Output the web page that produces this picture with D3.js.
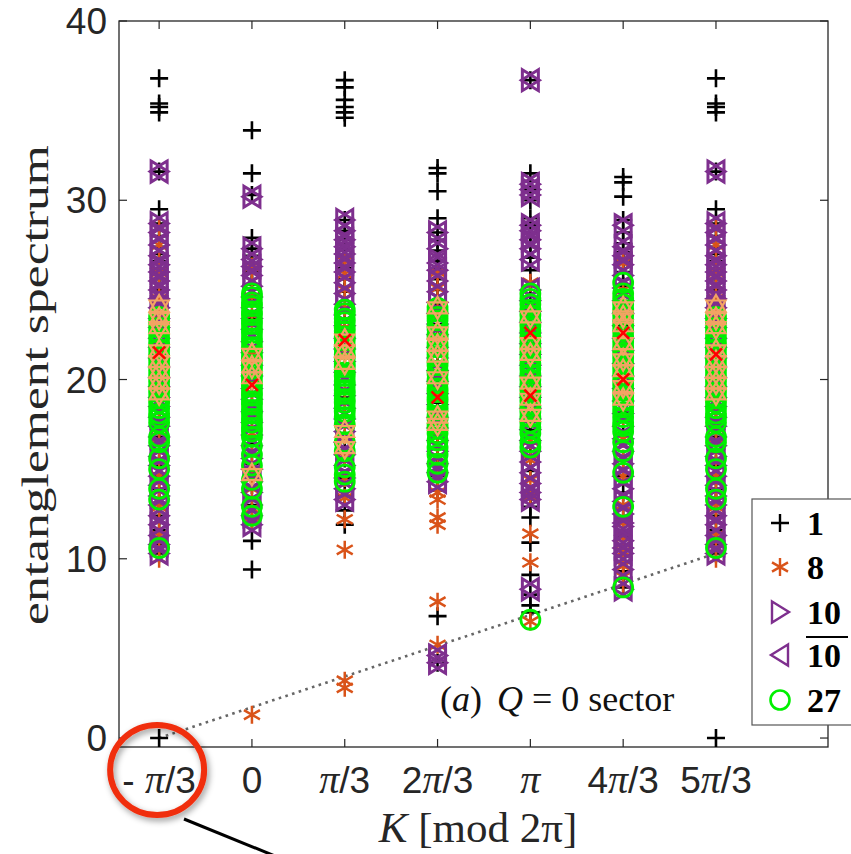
<!DOCTYPE html>
<html>
<head>
<meta charset="utf-8">
<script src="https://cdn.jsdelivr.net/npm/d3@7"></script>
<style>
  body { margin: 0; background: #fff; }
</style>
</head>
<body>
<div class="chart"></div>
<script>
// momentum sectors (units of pi/3) and their tick labels
const kSteps = [-1, 0, 1, 2, 3, 4, 5];
const kLabels = [["-", " ", "π", "/3"], ["0"], ["π", "/3"], ["2", "π", "/3"], ["π"], ["4", "π", "/3"], ["5", "π", "/3"]];
const yTicks = [0, 10, 20, 30, 40];

// entanglement levels per K column, one list per representation
const rep1 = [
  [0, 10.3, 10.8, 11.6, 12.4, 13.1, 13.9, 14.6, 15.2, 16.0, 16.8, 17.5, 18.3, 19.0, 19.8, 20.6, 21.3, 22.1, 22.9, 23.6, 24.3, 25.0, 25.6, 26.1, 26.6, 27.0, 27.4, 28.0, 28.7, 29.5, 31.6, 34.9, 35.2, 35.4, 36.8],
  [9.4, 11.0, 12.0, 13.0, 14.1, 15.3, 16.4, 17.6, 18.7, 19.9, 21.0, 22.3, 23.4, 24.5, 25.3, 26.0, 26.5, 26.9, 27.3, 27.9, 30.3, 31.5, 33.9],
  [11.9, 12.7, 13.5, 14.5, 15.6, 16.7, 17.9, 19.0, 20.2, 21.4, 22.6, 23.8, 24.9, 25.6, 26.2, 26.8, 27.3, 27.8, 28.3, 28.9, 34.6, 34.9, 35.2, 35.6, 36.3, 36.7],
  [4.2, 6.8, 13.8, 14.6, 15.5, 16.5, 17.6, 18.7, 19.8, 20.9, 22.0, 23.1, 24.2, 25.0, 25.6, 26.2, 26.6, 27.2, 27.8, 28.2, 29.0, 30.5, 31.5, 31.8],
  [7.0, 7.4, 8.0, 9.1, 10.9, 12.3, 12.9, 13.6, 14.9, 16.0, 17.2, 18.4, 19.6, 20.8, 22.0, 23.2, 24.4, 25.2, 26.1, 26.8, 27.4, 27.9, 28.6, 29.0, 30.0, 30.6, 31.5, 36.7],
  [8.4, 8.9, 9.3, 10.2, 11.2, 12.2, 13.7, 14.6, 15.5, 17.0, 18.2, 19.4, 20.6, 21.8, 23.0, 24.2, 25.2, 26.0, 26.6, 27.1, 27.6, 28.2, 28.9, 30.2, 31.0, 31.3],
  [0, 10.3, 10.8, 11.6, 12.4, 13.1, 13.9, 14.6, 15.2, 16.0, 16.8, 17.5, 18.3, 19.0, 19.8, 20.6, 21.3, 22.1, 22.9, 23.6, 24.3, 25.0, 25.6, 26.1, 26.6, 27.0, 27.4, 28.0, 28.7, 29.5, 31.6, 34.9, 35.2, 35.4, 36.8]
];
const rep8 = [
  [10.0, 10.6, 11.3, 12.1, 12.9, 13.3, 13.8, 14.6, 15.5, 16.4, 17.3, 18.2, 19.1, 20.0, 20.9, 21.8, 22.7, 23.6, 24.5, 25.3, 26.0, 26.7, 27.5, 28.4],
  [1.3, 12.0, 12.8, 13.9, 14.8, 15.9, 17.0, 18.1, 19.2, 20.3, 21.4, 22.5, 23.6, 24.6, 25.5, 26.3],
  [2.8, 3.2, 10.5, 12.2, 13.4, 14.5, 15.7, 16.9, 18.1, 19.3, 20.5, 21.7, 22.9, 24.0, 25.0, 25.9, 26.6],
  [5.2, 7.6, 11.9, 12.3, 13.3, 13.7, 14.6, 15.7, 16.8, 18.0, 19.2, 20.4, 21.6, 22.8, 24.0, 25.1, 26.0],
  [6.5, 9.8, 11.4, 13.5, 14.4, 15.5, 16.6, 17.8, 19.0, 20.2, 21.4, 22.6, 23.8, 25.4],
  [8.6, 9.0, 9.6, 10.4, 11.2, 12.0, 13.0, 14.6, 15.6, 16.7, 17.8, 19.0, 20.2, 21.4, 22.6, 23.8, 25.0, 26.5],
  [10.0, 10.6, 11.3, 12.1, 12.9, 13.3, 13.8, 14.6, 15.5, 16.4, 17.3, 18.2, 19.1, 20.0, 20.9, 21.8, 22.7, 23.6, 24.5, 25.3, 26.0, 26.7, 27.5, 28.4]
];
// 10 and its conjugate share the same levels
const rep10 = [
  [10.3, 10.8, 11.3, 11.9, 12.4, 13.0, 13.5, 14.1, 14.6, 15.2, 15.7, 16.3, 16.8, 17.4, 17.9, 18.5, 19.0, 19.6, 20.1, 20.7, 21.2, 21.8, 22.3, 22.9, 23.4, 24.0, 24.5, 25.0, 25.5, 26.0, 26.4, 26.9, 27.5, 28.2, 28.7, 31.6],
  [11.9, 12.4, 13.0, 13.7, 14.3, 15.0, 15.6, 16.3, 16.9, 17.6, 18.2, 18.9, 19.5, 20.2, 20.8, 21.5, 22.1, 22.8, 23.4, 24.0, 24.6, 25.2, 25.8, 26.3, 26.7, 27.3, 30.2],
  [13.3, 13.9, 14.5, 15.2, 15.8, 16.5, 17.1, 17.8, 18.4, 19.1, 19.7, 20.4, 21.0, 21.7, 22.3, 23.0, 23.6, 24.2, 24.8, 25.4, 26.0, 26.5, 27.0, 27.4, 27.8, 28.3, 28.9],
  [4.2, 4.6, 14.3, 14.8, 15.3, 16.0, 16.6, 17.3, 17.9, 18.6, 19.2, 19.9, 20.5, 21.2, 21.8, 22.5, 23.1, 23.7, 24.3, 24.9, 25.5, 26.1, 26.5, 27.3, 28.2],
  [8.3, 13.3, 13.7, 14.2, 14.8, 15.4, 16.0, 16.6, 17.2, 17.8, 18.4, 19.0, 19.6, 20.2, 20.8, 21.4, 22.0, 22.6, 23.2, 23.8, 24.4, 25.0, 26.7, 27.3, 27.8, 28.3, 28.6, 30.3, 30.6, 30.9, 36.7],
  [8.3, 9.4, 10.3, 10.6, 11.0, 11.8, 12.0, 12.5, 13.2, 13.9, 14.6, 15.3, 16.0, 16.7, 17.4, 18.1, 18.8, 19.5, 20.2, 20.9, 21.6, 22.3, 23.0, 23.7, 24.4, 25.1, 25.8, 26.4, 26.9, 27.4, 28.6],
  [10.3, 10.8, 11.3, 11.9, 12.4, 13.0, 13.5, 14.1, 14.6, 15.2, 15.7, 16.3, 16.8, 17.4, 17.9, 18.5, 19.0, 19.6, 20.1, 20.7, 21.2, 21.8, 22.3, 22.9, 23.4, 24.0, 24.5, 25.0, 25.5, 26.0, 26.4, 26.9, 27.5, 28.2, 28.7, 31.6]
];
const rep27 = [
  [10.6, 13.3, 13.9, 15.0, 15.6, 16.5, 16.8, 17.6, 17.9, 18.1, 18.4, 18.7, 19.0, 19.3, 19.6, 19.9, 20.2, 20.5, 20.8, 21.1, 21.4, 21.7, 22.0, 22.3, 22.6, 22.9, 23.2, 23.5],
  [12.4, 12.9, 13.9, 14.4, 15.2, 15.8, 16.3, 16.8, 17.1, 17.3, 17.6, 17.8, 18.1, 18.3, 18.6, 18.8, 19.1, 19.3, 19.6, 19.8, 20.1, 20.3, 20.6, 20.8, 21.1, 21.3, 21.6, 21.8, 22.1, 22.3, 22.6, 22.8, 23.1, 23.3, 23.6, 23.8, 24.1, 24.3, 24.6, 24.8],
  [14.3, 14.7, 15.1, 16.0, 16.5, 17.5, 17.9, 18.2, 18.4, 18.7, 18.9, 19.2, 19.4, 19.7, 19.9, 20.2, 20.4, 20.7, 20.9, 21.2, 21.4, 21.7, 21.9, 22.2, 22.4, 22.7, 22.9, 23.2, 23.4, 23.7, 23.9],
  [14.8, 15.3, 15.8, 16.2, 16.6, 17.0, 17.3, 17.5, 17.8, 18.0, 18.3, 18.5, 18.8, 19.0, 19.3, 19.5, 19.8, 20.0, 20.3, 20.5, 20.8, 21.0, 21.3, 21.5, 21.8, 22.0, 22.3, 22.5, 22.8, 23.0, 23.3, 23.5, 23.8, 24.0],
  [6.6, 16.2, 16.5, 17.0, 17.3, 17.6, 17.9, 18.2, 18.5, 18.8, 19.1, 19.4, 19.7, 20.0, 20.3, 20.6, 20.9, 21.2, 21.5, 21.8, 22.1, 22.4, 22.7, 23.0, 23.3, 23.6, 23.9, 24.2, 24.5, 24.8],
  [8.4, 12.9, 14.8, 16.0, 16.5, 17.1, 17.4, 17.6, 17.9, 18.2, 18.5, 18.8, 19.1, 19.4, 19.7, 20.0, 20.3, 20.6, 20.9, 21.2, 21.5, 21.8, 22.1, 22.4, 22.7, 23.0, 23.3, 23.6, 23.9, 24.2, 24.5, 24.8, 25.4],
  [10.6, 13.3, 13.9, 15.0, 15.6, 16.5, 16.8, 17.6, 17.9, 18.1, 18.4, 18.7, 19.0, 19.3, 19.6, 19.9, 20.2, 20.5, 20.8, 21.1, 21.4, 21.7, 22.0, 22.3, 22.6, 22.9, 23.2, 23.5]
];
// reps plotted without a legend entry
const repHex = [
  [19.2, 19.8, 20.4, 21.0, 21.6, 22.9, 23.4, 24.1],
  [14.7, 20.1, 20.7, 21.4],
  [16.2, 17.1, 20.9, 21.6, 22.2],
  [17.5, 17.9, 20.1, 21.3, 21.9, 22.6, 24.0],
  [18.0, 18.9, 19.8, 21.4, 22.0, 23.5],
  [18.9, 19.6, 20.5, 21.1, 22.0, 23.0, 23.5, 24.0],
  [19.2, 19.8, 20.4, 21.0, 21.6, 22.9, 23.4, 24.1]
];
const repX = [[21.5], [19.7], [22.2], [19.0], [22.6, 19.1], [22.6, 20.0], [21.4]];

// dotted guide line (K in units of pi/3, level)
const guide = [[-1, 0], [5, 10.3]];

const W = 851, H = 854;
const svg = d3.select(".chart").append("svg").attr("width", W).attr("height", H)
  .style("font-family", "'Liberation Sans', Arial, sans-serif");

const x = d3.scaleLinear().domain([-1.5, 6.5]).range([119, 828]);
const y = d3.scaleLinear().domain([-0.5, 40]).range([747, 21]);
const kx = k => x(k * Math.PI / 3);

const defs = svg.append("defs");
const shadow = defs.append("filter").attr("id", "shadow")
  .attr("x", "-30%").attr("y", "-30%").attr("width", "160%").attr("height", "160%");
shadow.append("feDropShadow").attr("dx", 2).attr("dy", 3).attr("stdDeviation", 3)
  .attr("flood-color", "#000").attr("flood-opacity", 0.4);

// marker paths centred at 0,0
const markers = {
  plus: "M-9,0H9M0,-9V9",
  star: "M0,-9V9M-8,-4.6L8,4.6M-8,4.6L8,-4.6",
  right: "M-8,-10.5L9,0L-8,10.5Z",
  left: "M8,-10.5L-9,0L8,10.5Z",
  hex: "M0,-11L9.5,5.5L-9.5,5.5ZM0,11L9.5,-5.5L-9.5,-5.5Z",
  cross: "M-6,-6L6,6M6,-6L-6,6"
};

// frame
const frame = svg.append("g");
frame.append("rect").attr("x", x.range()[0]).attr("y", y.range()[1])
  .attr("width", x.range()[1] - x.range()[0]).attr("height", y.range()[0] - y.range()[1])
  .attr("fill", "none").attr("stroke", "#262626").attr("stroke-width", 1.3);

// ticks inside on all four sides
kSteps.forEach(k => {
  frame.append("line").attr("x1", kx(k)).attr("x2", kx(k)).attr("y1", y.range()[0]).attr("y2", y.range()[0] - 8)
    .attr("stroke", "#262626").attr("stroke-width", 1.2);
  frame.append("line").attr("x1", kx(k)).attr("x2", kx(k)).attr("y1", y.range()[1]).attr("y2", y.range()[1] + 8)
    .attr("stroke", "#262626").attr("stroke-width", 1.2);
});
yTicks.forEach(t => {
  frame.append("line").attr("x1", x.range()[0]).attr("x2", x.range()[0] + 8).attr("y1", y(t)).attr("y2", y(t))
    .attr("stroke", "#262626").attr("stroke-width", 1.2);
  frame.append("line").attr("x1", x.range()[1]).attr("x2", x.range()[1] - 8).attr("y1", y(t)).attr("y2", y(t))
    .attr("stroke", "#262626").attr("stroke-width", 1.2);
  frame.append("text").attr("x", x.range()[0] - 12).attr("y", y(t) + 13)
    .attr("text-anchor", "end").attr("font-size", 37).attr("fill", "#262626").text(t);
});

// x tick labels, pi in italic serif
kSteps.forEach((k, i) => {
  const t = frame.append("text").attr("x", kx(k)).attr("y", 793)
    .attr("text-anchor", "middle").attr("font-size", 37).attr("fill", "#262626");
  kLabels[i].forEach(part => {
    const s = t.append("tspan").text(part);
    if (part === "π") s.attr("font-family", "'Liberation Serif', serif").attr("font-style", "italic").attr("font-size", 40);
  });
});

// axis titles
svg.append("text")
  .attr("transform", "translate(48,385) rotate(-90)")
  .attr("text-anchor", "middle").attr("font-family", "'Liberation Serif', serif")
  .attr("font-size", 37).attr("fill", "#262626")
  .attr("textLength", 480).attr("lengthAdjust", "spacingAndGlyphs")
  .text("entanglement spectrum");

const xt = svg.append("text").attr("x", 478).attr("y", 842).attr("text-anchor", "middle")
  .attr("font-family", "'Liberation Serif', serif").attr("font-size", 43).attr("fill", "#262626");
xt.append("tspan").attr("font-style", "italic").text("K");
xt.append("tspan").text(" [mod 2π]");

// guide line
svg.append("path")
  .attr("d", d3.line().x(d => kx(d[0])).y(d => y(d[1]))(guide))
  .attr("fill", "none").attr("stroke", "#666").attr("stroke-width", 2.6)
  .attr("stroke-dasharray", "2.6 4.4");

// draws one marker series, column by column
function drawSeries(data, shape, color, width) {
  const pts = [];
  data.forEach((col, i) => col.forEach(v => pts.push([kSteps[i], v])));
  svg.append("g").selectAll("path").data(pts).join("path")
    .attr("transform", d => "translate(" + kx(d[0]) + "," + y(d[1]) + ")")
    .attr("d", markers[shape])
    .attr("fill", "none").attr("stroke", color).attr("stroke-width", width);
}

drawSeries(rep1, "plus", "#000", 2.6);
drawSeries(rep8, "star", "#D95319", 2.5);
drawSeries(rep10, "right", "#7E2F8E", 3);
drawSeries(rep10, "left", "#7E2F8E", 3);
svg.append("g").selectAll("circle")
  .data(rep27.flatMap((col, i) => col.map(v => [kSteps[i], v])))
  .join("circle")
  .attr("cx", d => kx(d[0])).attr("cy", d => y(d[1])).attr("r", 9.5)
  .attr("fill", "none").attr("stroke", "#00F000").attr("stroke-width", 2.8);
drawSeries(repHex, "hex", "#F2A363", 2.2);
drawSeries(repX, "cross", "#FF0000", 2.6);

// panel note
const note = svg.append("text").attr("x", 440).attr("y", 711)
  .attr("font-family", "'Liberation Serif', serif").attr("font-size", 36).attr("fill", "#111");
note.append("tspan").text("(");
note.append("tspan").attr("font-style", "italic").text("a");
note.append("tspan").text(") ");
note.append("tspan").attr("dx", 6).attr("font-style", "italic").text("Q");
note.append("tspan").text(" = 0 sector");

// legend
const legendItems = [
  { shape: "plus", color: "#000", label: "1" },
  { shape: "star", color: "#D95319", label: "8" },
  { shape: "right", color: "#7E2F8E", label: "10" },
  { shape: "left", color: "#7E2F8E", label: "10", bar: true },
  { shape: "circle", color: "#00F000", label: "27" }
];
const lg = svg.append("g");
lg.append("rect").attr("x", 752).attr("y", 499).attr("width", 130).attr("height", 226)
  .attr("fill", "#fff").attr("stroke", "#555").attr("stroke-width", 1.2);
const legendY = [523, 567, 612, 655, 700];
legendItems.forEach((d, i) => {
  if (d.shape === "circle") {
    lg.append("circle").attr("cx", 780).attr("cy", legendY[i]).attr("r", 9.5)
      .attr("fill", "none").attr("stroke", d.color).attr("stroke-width", 2.6);
  } else {
    lg.append("path").attr("transform", "translate(780," + legendY[i] + ")")
      .attr("d", markers[d.shape]).attr("fill", "none").attr("stroke", d.color).attr("stroke-width", 2.4);
  }
  lg.append("text").attr("x", 807).attr("y", legendY[i] + 12)
    .attr("font-family", "'Liberation Serif', serif").attr("font-weight", "bold")
    .attr("font-size", 34).attr("fill", "#000").text(d.label);
  if (d.bar) {
    lg.append("line").attr("x1", 806).attr("x2", 848).attr("y1", legendY[i] - 18).attr("y2", legendY[i] - 18)
      .attr("stroke", "#000").attr("stroke-width", 2);
  }
});

// red highlight around the first tick label
svg.append("ellipse").attr("cx", kx(-1) - 2).attr("cy", 770).attr("rx", 47).attr("ry", 45)
  .attr("fill", "none").attr("stroke", "#F02E0E").attr("stroke-width", 6)
  .attr("filter", "url(#shadow)");
svg.append("line").attr("x1", 184).attr("y1", 819).attr("x2", 275).attr("y2", 856)
  .attr("stroke", "#000").attr("stroke-width", 3);
</script>
</body>
</html>
